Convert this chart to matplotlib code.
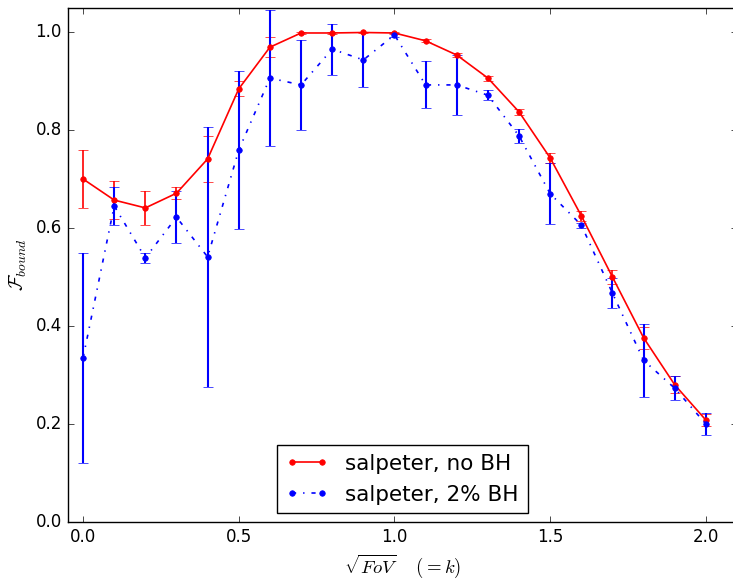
import matplotlib
matplotlib.use("Agg")
import matplotlib.pyplot as plt
from matplotlib.lines import Line2D

plt.style.use('classic')

k = [0.0, 0.1, 0.2, 0.3, 0.4, 0.5, 0.6, 0.7, 0.8, 0.9, 1.0,
     1.1, 1.2, 1.3, 1.4, 1.5, 1.6, 1.7, 1.8, 1.9, 2.0]

f_nobh = [0.700, 0.657, 0.641, 0.671, 0.741, 0.884, 0.969, 0.998, 0.998, 0.999, 0.998,
          0.982, 0.953, 0.906, 0.837, 0.743, 0.625, 0.500, 0.376, 0.280, 0.208]
err_nobh = [0.059, 0.038, 0.034, 0.012, 0.047, 0.015, 0.020, 0.002, 0.002, 0.002, 0.002,
            0.003, 0.005, 0.005, 0.006, 0.010, 0.010, 0.015, 0.022, 0.017, 0.013]

f_bh = [0.335, 0.645, 0.539, 0.622, 0.541, 0.759, 0.906, 0.892, 0.965, 0.943, 0.994,
        0.892, 0.892, 0.871, 0.788, 0.670, 0.606, 0.467, 0.330, 0.273, 0.200]
err_bh = [0.215, 0.039, 0.011, 0.053, 0.265, 0.162, 0.138, 0.092, 0.052, 0.056, 0.004,
          0.048, 0.061, 0.010, 0.015, 0.062, 0.005, 0.030, 0.074, 0.024, 0.023]

labels = ['salpeter, no BH', 'salpeter, 2% BH']

fig = plt.figure(figsize=(7.33, 5.82), dpi=100)
ax = fig.add_axes([67.5/733, 1 - 522/582, (737-67.5)/733, (522-7.5)/582])

ax.errorbar(k, f_nobh, yerr=err_nobh, color='red', ecolor='red', marker='o',
            markersize=4, markeredgecolor='red', linestyle='-', linewidth=1.2,
            elinewidth=1.2, capsize=3.5)
ax.errorbar(k, f_bh, yerr=err_bh, color='blue', ecolor='blue', marker='o',
            markersize=4, markeredgecolor='blue', linestyle='-.', linewidth=1.2,
            elinewidth=1.5, capsize=3.5)

ax.set_xlim(-0.05, 2.1)
ax.set_ylim(0.0, 1.05)
ax.set_xticks([0.0, 0.5, 1.0, 1.5, 2.0])
ax.set_yticks([0.0, 0.2, 0.4, 0.6, 0.8, 1.0])
ax.tick_params(labelsize=12)

ax.set_xlabel(r'$\sqrt{FoV}\quad\;(=k)$', fontsize=13.5)
ax.set_ylabel(r'$\mathcal{F}_{bound}$', fontsize=14)

handles = [
    Line2D([], [], color='red', marker='o', markersize=4, markeredgecolor='red',
           linestyle='-', linewidth=1.2),
    Line2D([], [], color='blue', marker='o', markersize=4, markeredgecolor='blue',
           linestyle='-.', linewidth=1.2),
]
ax.legend(handles, labels, loc='lower center', fontsize=15.5, numpoints=2,
          frameon=True, borderaxespad=0.4, bbox_to_anchor=(334.5/669.5, 0.0))

fig.savefig('out.png', dpi=100)
